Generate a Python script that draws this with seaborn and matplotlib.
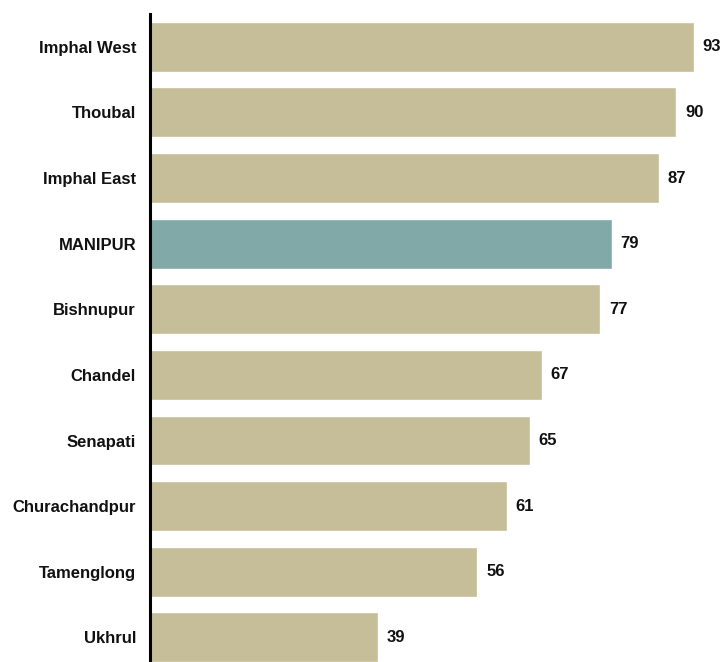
import matplotlib
matplotlib.use("Agg")
import matplotlib.pyplot as plt
import seaborn as sns
import pandas as pd

districts = ["Imphal West", "Thoubal", "Imphal East", "MANIPUR", "Bishnupur",
             "Chandel", "Senapati", "Churachandpur", "Tamenglong", "Ukhrul"]
values = [93, 90, 87, 79, 77, 67, 65, 61, 56, 39]
highlight = "MANIPUR"

TAN = "#C5BE99"
TEAL = "#80A9A8"

df = pd.DataFrame({"district": districts, "value": values})
palette = {d: (TEAL if d == highlight else TAN) for d in districts}

sns.set_style("white")
plt.rcParams["font.family"] = ["Liberation Sans", "DejaVu Sans"]

fig = plt.figure(figsize=(7.23, 6.62), dpi=100)
ax = fig.add_axes([150 / 723, 0, 573 / 723, 648 / 662])

sns.barplot(data=df, y="district", x="value", hue="district", palette=palette,
            order=districts, width=0.76, legend=False, ax=ax, saturation=1)

for i, v in enumerate(values):
    ax.text(v + 1.5, i, f"{v}", va="center", ha="left",
            fontsize=12, fontweight="bold", color="#111111")

ax.set_xlim(0, 98)
ax.set_ylim(9.375, -0.5)
ax.set_xlabel("")
ax.set_ylabel("")
ax.set_xticks([])
for s in ["top", "right", "bottom"]:
    ax.spines[s].set_visible(False)
ax.spines["left"].set_linewidth(2.2)
ax.spines["left"].set_color("#000000")
ax.tick_params(axis="y", length=0, pad=10)
for lbl in ax.get_yticklabels():
    lbl.set_fontweight("bold")
    lbl.set_fontsize(12)
    lbl.set_color("#111111")

fig.savefig("out.png", dpi=100)
